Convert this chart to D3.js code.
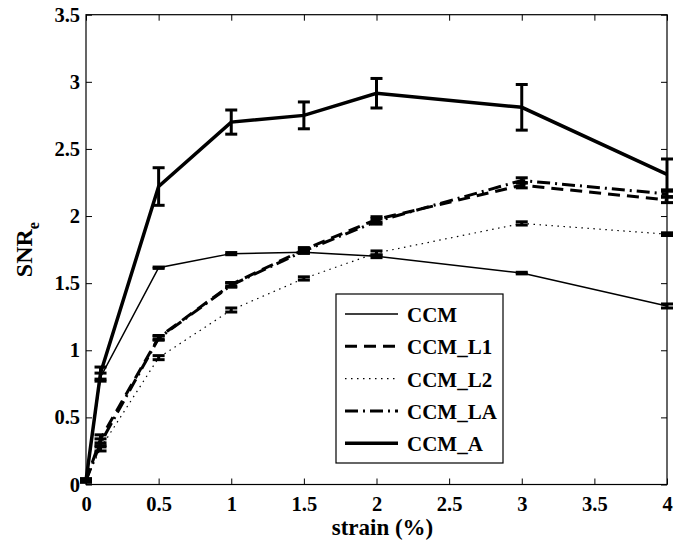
<!DOCTYPE html>
<html>
<head>
<meta charset="utf-8">
<script src="https://cdn.jsdelivr.net/npm/d3@7"></script>
<style>
html,body{margin:0;padding:0;background:#fff;}
text{font-family:"Liberation Serif","Times New Roman",serif;font-weight:bold;}
</style>
</head>
<body>
<svg id="chart" width="674" height="542"></svg>
<script>
const strain = [0, 0.1, 0.5, 1, 1.5, 2, 3, 4];
const seriesNames = ["CCM", "CCM_L1", "CCM_L2", "CCM_LA", "CCM_A"];
const ccm   = [0.03, 0.80, 1.615, 1.72, 1.73, 1.70, 1.575, 1.33];
const ccmL1 = [0.03, 0.34, 1.095, 1.49, 1.75, 1.975, 2.23, 2.12];
const ccmL2 = [0.03, 0.27, 0.945, 1.30, 1.535, 1.725, 1.945, 1.865];
const ccmLA = [0.03, 0.31, 1.09, 1.485, 1.74, 1.96, 2.265, 2.165];
const ccmA  = [0.03, 0.83, 2.22, 2.70, 2.75, 2.915, 2.81, 2.31];
const errCCM = [0.01, 0.03, 0.005, 0.008, 0.008, 0.01, 0.006, 0.015];
const errL1  = [0.01, 0.03, 0.015, 0.015, 0.015, 0.02, 0.02, 0.02];
const errL2  = [0.01, 0.02, 0.015, 0.015, 0.012, 0.015, 0.012, 0.01];
const errLA  = [0.01, 0.03, 0.015, 0.015, 0.015, 0.02, 0.02, 0.02];
const errA   = [0.01, 0.045, 0.14, 0.09, 0.1, 0.11, 0.17, 0.115];
const xTicks = [0, 0.5, 1, 1.5, 2, 2.5, 3, 3.5, 4];
const yTicks = [0, 0.5, 1, 1.5, 2, 2.5, 3, 3.5];

const series = [
  {name: seriesNames[0], y: ccm,   e: errCCM, w: 1.5, dash: null},
  {name: seriesNames[1], y: ccmL1, e: errL1,  w: 3,   dash: "12,7"},
  {name: seriesNames[2], y: ccmL2, e: errL2,  w: 1.2, dash: "1.5,4.5"},
  {name: seriesNames[3], y: ccmLA, e: errLA,  w: 3,   dash: "13,5,2,5"},
  {name: seriesNames[4], y: ccmA,  e: errA,   w: 3.5, dash: null}
];

const L = 86, R = 667, T = 14.7, B = 484.5;
const x = d3.scaleLinear().domain([0, 4]).range([L, R]);
const y = d3.scaleLinear().domain([0, 3.5]).range([B, T]);
const svg = d3.select("#chart");

// box
svg.append("rect").attr("x", L).attr("y", T).attr("width", R - L).attr("height", B - T)
  .attr("fill", "none").attr("stroke", "#000").attr("stroke-width", 1.2);

// axes (ticks inward)
const fmt = d => d3.format("")(d);
const ax = [
  [d3.axisBottom(x).tickValues(xTicks).tickFormat(fmt), `translate(0,${B})`, 12],
  [d3.axisTop(x).tickValues(xTicks).tickFormat(""), `translate(0,${T})`, 6],
  [d3.axisLeft(y).tickValues(yTicks).tickFormat(fmt), `translate(${L},0)`, 6],
  [d3.axisRight(y).tickValues(yTicks).tickFormat(""), `translate(${R},0)`, 6]
];
ax.forEach(([a, tr, pad]) => {
  const g = svg.append("g").attr("transform", tr).call(a.tickSizeInner(-6).tickSizeOuter(0).tickPadding(pad));
  g.select(".domain").remove();
  g.selectAll(".tick line").attr("stroke", "#000").attr("stroke-width", 1);
  g.selectAll("text").attr("font-size", 20.5).attr("fill", "#000")
    .style("font-family", '"Liberation Serif",serif').style("font-weight", "bold");
});

// lines
const line = d3.line().x((d, i) => x(strain[i])).y(d => y(d));
series.forEach(s => {
  svg.append("path").datum(s.y).attr("d", line).attr("fill", "none")
    .attr("stroke", "#000").attr("stroke-width", s.w)
    .attr("stroke-dasharray", s.dash).attr("stroke-linejoin", "miter");
  // error bars
  const eb = svg.append("g");
  s.y.forEach((v, i) => {
    const cx = x(strain[i]);
    const y1 = y(v + s.e[i]), y0 = y(v - s.e[i]);
    eb.append("line").attr("x1", cx).attr("x2", cx).attr("y1", y1).attr("y2", y0)
      .attr("stroke", "#000").attr("stroke-width", 3);
    [y1, y0].forEach(yy => eb.append("line").attr("x1", cx - 6).attr("x2", cx + 6)
      .attr("y1", yy).attr("y2", yy).attr("stroke", "#000").attr("stroke-width", 3));
  });
});

// legend
const lg = svg.append("g");
lg.append("rect").attr("x", 336).attr("y", 294).attr("width", 167).attr("height", 169)
  .attr("fill", "#fff").attr("stroke", "#000").attr("stroke-width", 1.2);
series.forEach((s, i) => {
  const yy = 314 + i * 32.3;
  lg.append("line").attr("x1", 345).attr("x2", 398).attr("y1", yy).attr("y2", yy)
    .attr("stroke", "#000").attr("stroke-width", s.w).attr("stroke-dasharray", s.dash);
  lg.append("text").attr("x", 407).attr("y", yy + 8).attr("font-size", 21).text(s.name);
});

// axis labels
svg.append("text").attr("x", (L + R) / 2 + 6).attr("y", 535).attr("text-anchor", "middle")
  .attr("font-size", 23).text("strain (%)");
const yl = svg.append("text").attr("transform", `translate(32,${(T + B) / 2}) rotate(-90)`)
  .attr("text-anchor", "middle").attr("font-size", 24);
yl.append("tspan").text("SNR");
yl.append("tspan").attr("font-size", 16).attr("dy", 7).text("e");
</script>
</body>
</html>
